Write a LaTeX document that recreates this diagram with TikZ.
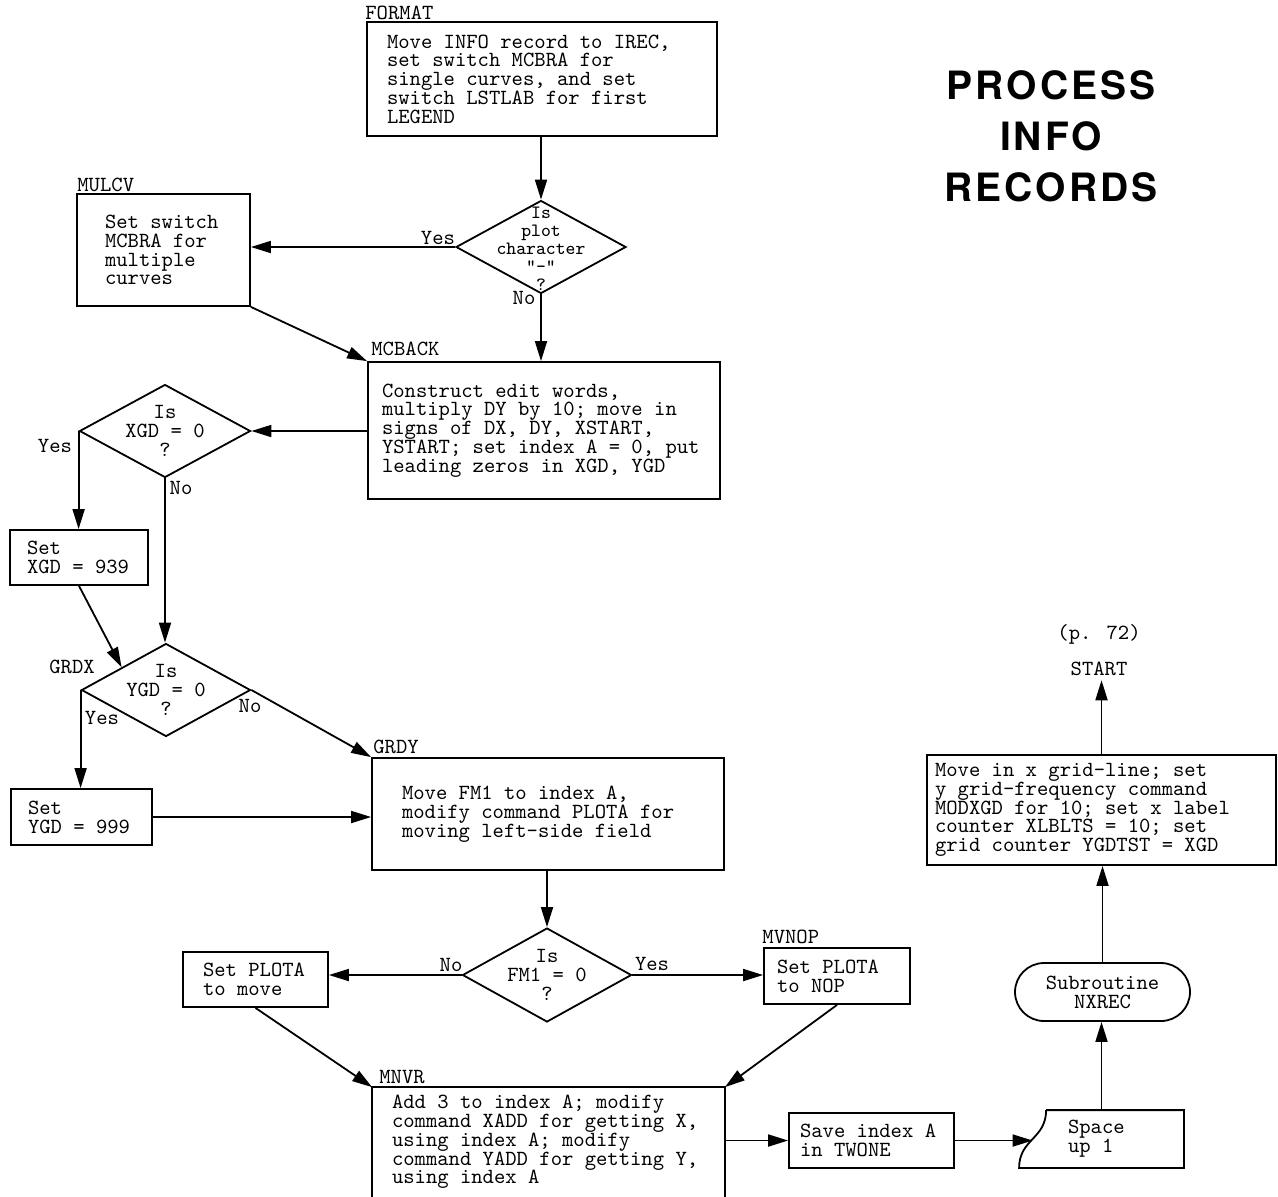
\documentclass[tikz,border=0pt]{standalone}
\usepackage{fontspec}
\setmainfont{Liberation Serif}
\newfontfamily\ttl[LetterSpace=8]{TeX Gyre Heros}
\newcommand\mysp{\spaceskip=\fontdimen2\font\xspaceskip=\fontdimen2\font\relax}
\usetikzlibrary{shapes.geometric,arrows.meta,calc}
\begin{document}
\begin{tikzpicture}[x=0.5pt,y=-0.5pt,
  tt/.style={font=\fontsize{10.8pt}{9.4pt}\selectfont\ttfamily},
  bx/.style={tt, draw, line width=0.9pt, align=left, inner ysep=0pt, anchor=center, execute at begin node=\mysp},
  lbl/.style={tt, inner sep=0pt, anchor=base west},
  yn/.style={tt, inner sep=0pt},
  dia/.style={diamond, draw, line width=0.9pt, inner sep=0pt},
  dtx/.style={tt, align=center, inner sep=0pt},
  arr/.style={line width=0.9pt, -{Triangle[length=10pt,width=6pt]}},
  edge/.style={line width=0.9pt}
]
\fill[white] (0,0) rectangle (1278,1196);
\useasboundingbox (0,0) rectangle (1278,1196);

% title
\node[font={\fontsize{19.5pt}{25.5pt}\ttl\bfseries}, align=center] (title) at (1051,136) {PROCESS\\ INFO\\ RECORDS};

% boxes
\node[bx, minimum height=57pt, text width=155pt, inner xsep=10pt] (fmt) at (542,79)
  {Move INFO record to IREC,\\ set switch MCBRA for\\ single curves, and set\\ switch LSTLAB for first\\ LEGEND};
\node[bx, minimum height=56pt, text width=58.5pt, inner xsep=14pt] (mulcv) at (163.5,250)
  {Set switch\\ MCBRA for\\ multiple\\ curves};
\node[bx, minimum height=68.5pt, text width=162pt, inner xsep=7pt] (mcback) at (544,430.5)
  {Construct edit words,\\ multiply DY by 10; move in\\ signs of DX, DY, XSTART,\\ YSTART; set index A = 0, put\\ leading zeros in XGD, YGD};
\node[bx, minimum height=27.5pt, text width=52pt, inner xsep=8.5pt] (setx) at (79,557.5)
  {Set\\ XGD = 939};
\node[bx, minimum height=28pt, text width=53.5pt, inner xsep=8.5pt] (sety) at (81.5,817)
  {Set\\ YGD = 999};
\node[bx, minimum height=56pt, text width=146pt, inner xsep=15pt] (grdy) at (548,814)
  {Move FM1 to index A,\\ modify command PLOTA for\\ moving left-side field};
\node[bx, minimum height=27.5pt, text width=52.5pt, inner xsep=10pt] (move) at (255.5,979.5)
  {Set PLOTA\\ to move};
\node[bx, minimum height=28pt, text width=60pt, inner xsep=6.5pt] (mvnop) at (837,976)
  {Set PLOTA\\ to NOP};
\node[bx, draw=none, minimum height=54pt, text width=156.5pt, inner xsep=9.5pt] (mnvr) at (548.5,1142)
  {Add 3 to index A; modify\\ command XADD for getting X,\\ using index A; modify\\ command YADD for getting Y,\\ using index A};
\draw[edge] (mnvr.south west) -- (mnvr.north west) -- (mnvr.north east) -- (mnvr.south east);
\node[bx, minimum height=27.5pt, text width=71.5pt, inner xsep=5.5pt] (save) at (871.5,1140.5)
  {Save index A\\ in TWONE};
\node[bx, draw=none, minimum height=28pt, text width=33.5pt, inner xsep=24pt] (card) at (1101.5,1139)
  {Space\\ up 1};
\draw[edge] ($(card.north west)+(27,0)$) -- (card.north east) -- (card.south east) -- (card.south west)
  .. controls (card.west) and ($(card.west)+(27,0)$) .. ($(card.north west)+(27,0)$);
\coordinate (cin) at ($(card.west)+(13.5,0)$);
\node[tt, draw, line width=0.9pt, rounded corners=14.5pt, align=center, minimum width=87.5pt, minimum height=29pt, inner sep=0pt] (nxrec) at (1102.5,992)
  {Subroutine\\ NXREC};
\node[bx, minimum height=55pt, text width=166.5pt, inner xsep=4pt] (bigbox) at (1101.5,810)
  {Move in x grid-line; set\\ y grid-frequency command\\ MODXGD for 10; set x label\\ counter XLBLTS = 10; set\\ grid counter YGDTST = XGD};
\node[tt, inner sep=2pt] (start) at (1099,669) {START};
\node[tt, inner sep=0pt] (p72) at (1099,634) {(p. 72)};

% diamonds
\node[dia, minimum width=85pt, minimum height=46.5pt] (d1) at (541,247) {};
\node[dtx, font=\fontsize{9.4pt}{9pt}\selectfont\ttfamily] (d1t) at ([yshift=-1pt]d1.center) {Is\\ plot\\ character\\ "-"\\ ?};
\node[dia, minimum width=85.5pt, minimum height=46.5pt] (d2) at (165,431) {};
\node[dtx] (d2t) at (d2.center) {Is\\ XGD = 0\\ ?};
\node[dia, minimum width=84.5pt, minimum height=46.5pt] (d3) at (166,690) {};
\node[dtx] (d3t) at (d3.center) {Is\\ YGD = 0\\ ?};
\node[dia, minimum width=84.5pt, minimum height=47pt] (d4) at (547,975) {};
\node[dtx] (d4t) at (d4.center) {Is\\ FM1 = 0\\ ?};

% entry labels
\node[lbl] (lfmt) at (365,19) {FORMAT};
\node[lbl] (lmul) at (77,191) {MULCV};
\node[lbl] (lmcb) at (371,355) {MCBACK};
\node[lbl] (lgx) at (49,673) {GRDX};
\node[lbl] (lgy) at (373,753) {GRDY};
\node[lbl] (lmv) at (762,943) {MVNOP};
\node[lbl] (lmn) at (379,1083) {MNVR};

% yes / no
\node[yn] (y1) at (438,238) {Yes};
\node[yn] (n1) at (524,298) {No};
\node[yn] (y2) at (55,446) {Yes};
\node[yn] (n2) at (181,488) {No};
\node[yn] (y3) at (102,718) {Yes};
\node[yn] (n3) at (250,706) {No};
\node[yn] (n4) at (451,965) {No};
\node[yn] (y4) at (652,964) {Yes};

% connectors
\draw[arr] (d1.north |- fmt.south) -- (d1.north);
\draw[arr] (d1.west) -- (d1.west -| mulcv.east);
\draw[arr] (d1.south) -- (d1.south |- mcback.north);
\draw[arr] (mulcv.south east) -- (mcback.north west);
\draw[arr] (mcback.west |- d2.east) -- (d2.east);
\draw[arr] (d2.west) -- (d2.west |- setx.north);
\draw[arr] (d2.south) -- (d2.south |- d3.north);
\draw[arr] (setx.south) -- ($(d3.west)!0.48!(d3.north)$);
\draw[arr] (d3.west) -- (d3.west |- sety.north);
\draw[arr] (d3.east) -- (grdy.north west);
\draw[arr] (sety.east) -- (sety.east -| grdy.west);
\draw[arr] (d4.north |- grdy.south) -- (d4.north);
\draw[arr] (d4.west) -- (d4.west -| move.east);
\draw[arr] (d4.east) -- (d4.east -| mvnop.west);
\draw[arr] (move.south) -- (mnvr.north west);
\draw[arr] (mvnop.south) -- (mnvr.north east);
\draw[arr] (mnvr.east |- save.west) -- (save.west);
\draw[arr] (save.east) -- (save.east -| cin);
\draw[arr] (card.north) -- (card.north |- nxrec.south);
\draw[arr] (nxrec.north) -- (nxrec.north |- bigbox.south);
\draw[arr] (bigbox.north) -- (bigbox.north |- start.south);
\end{tikzpicture}
\end{document}
